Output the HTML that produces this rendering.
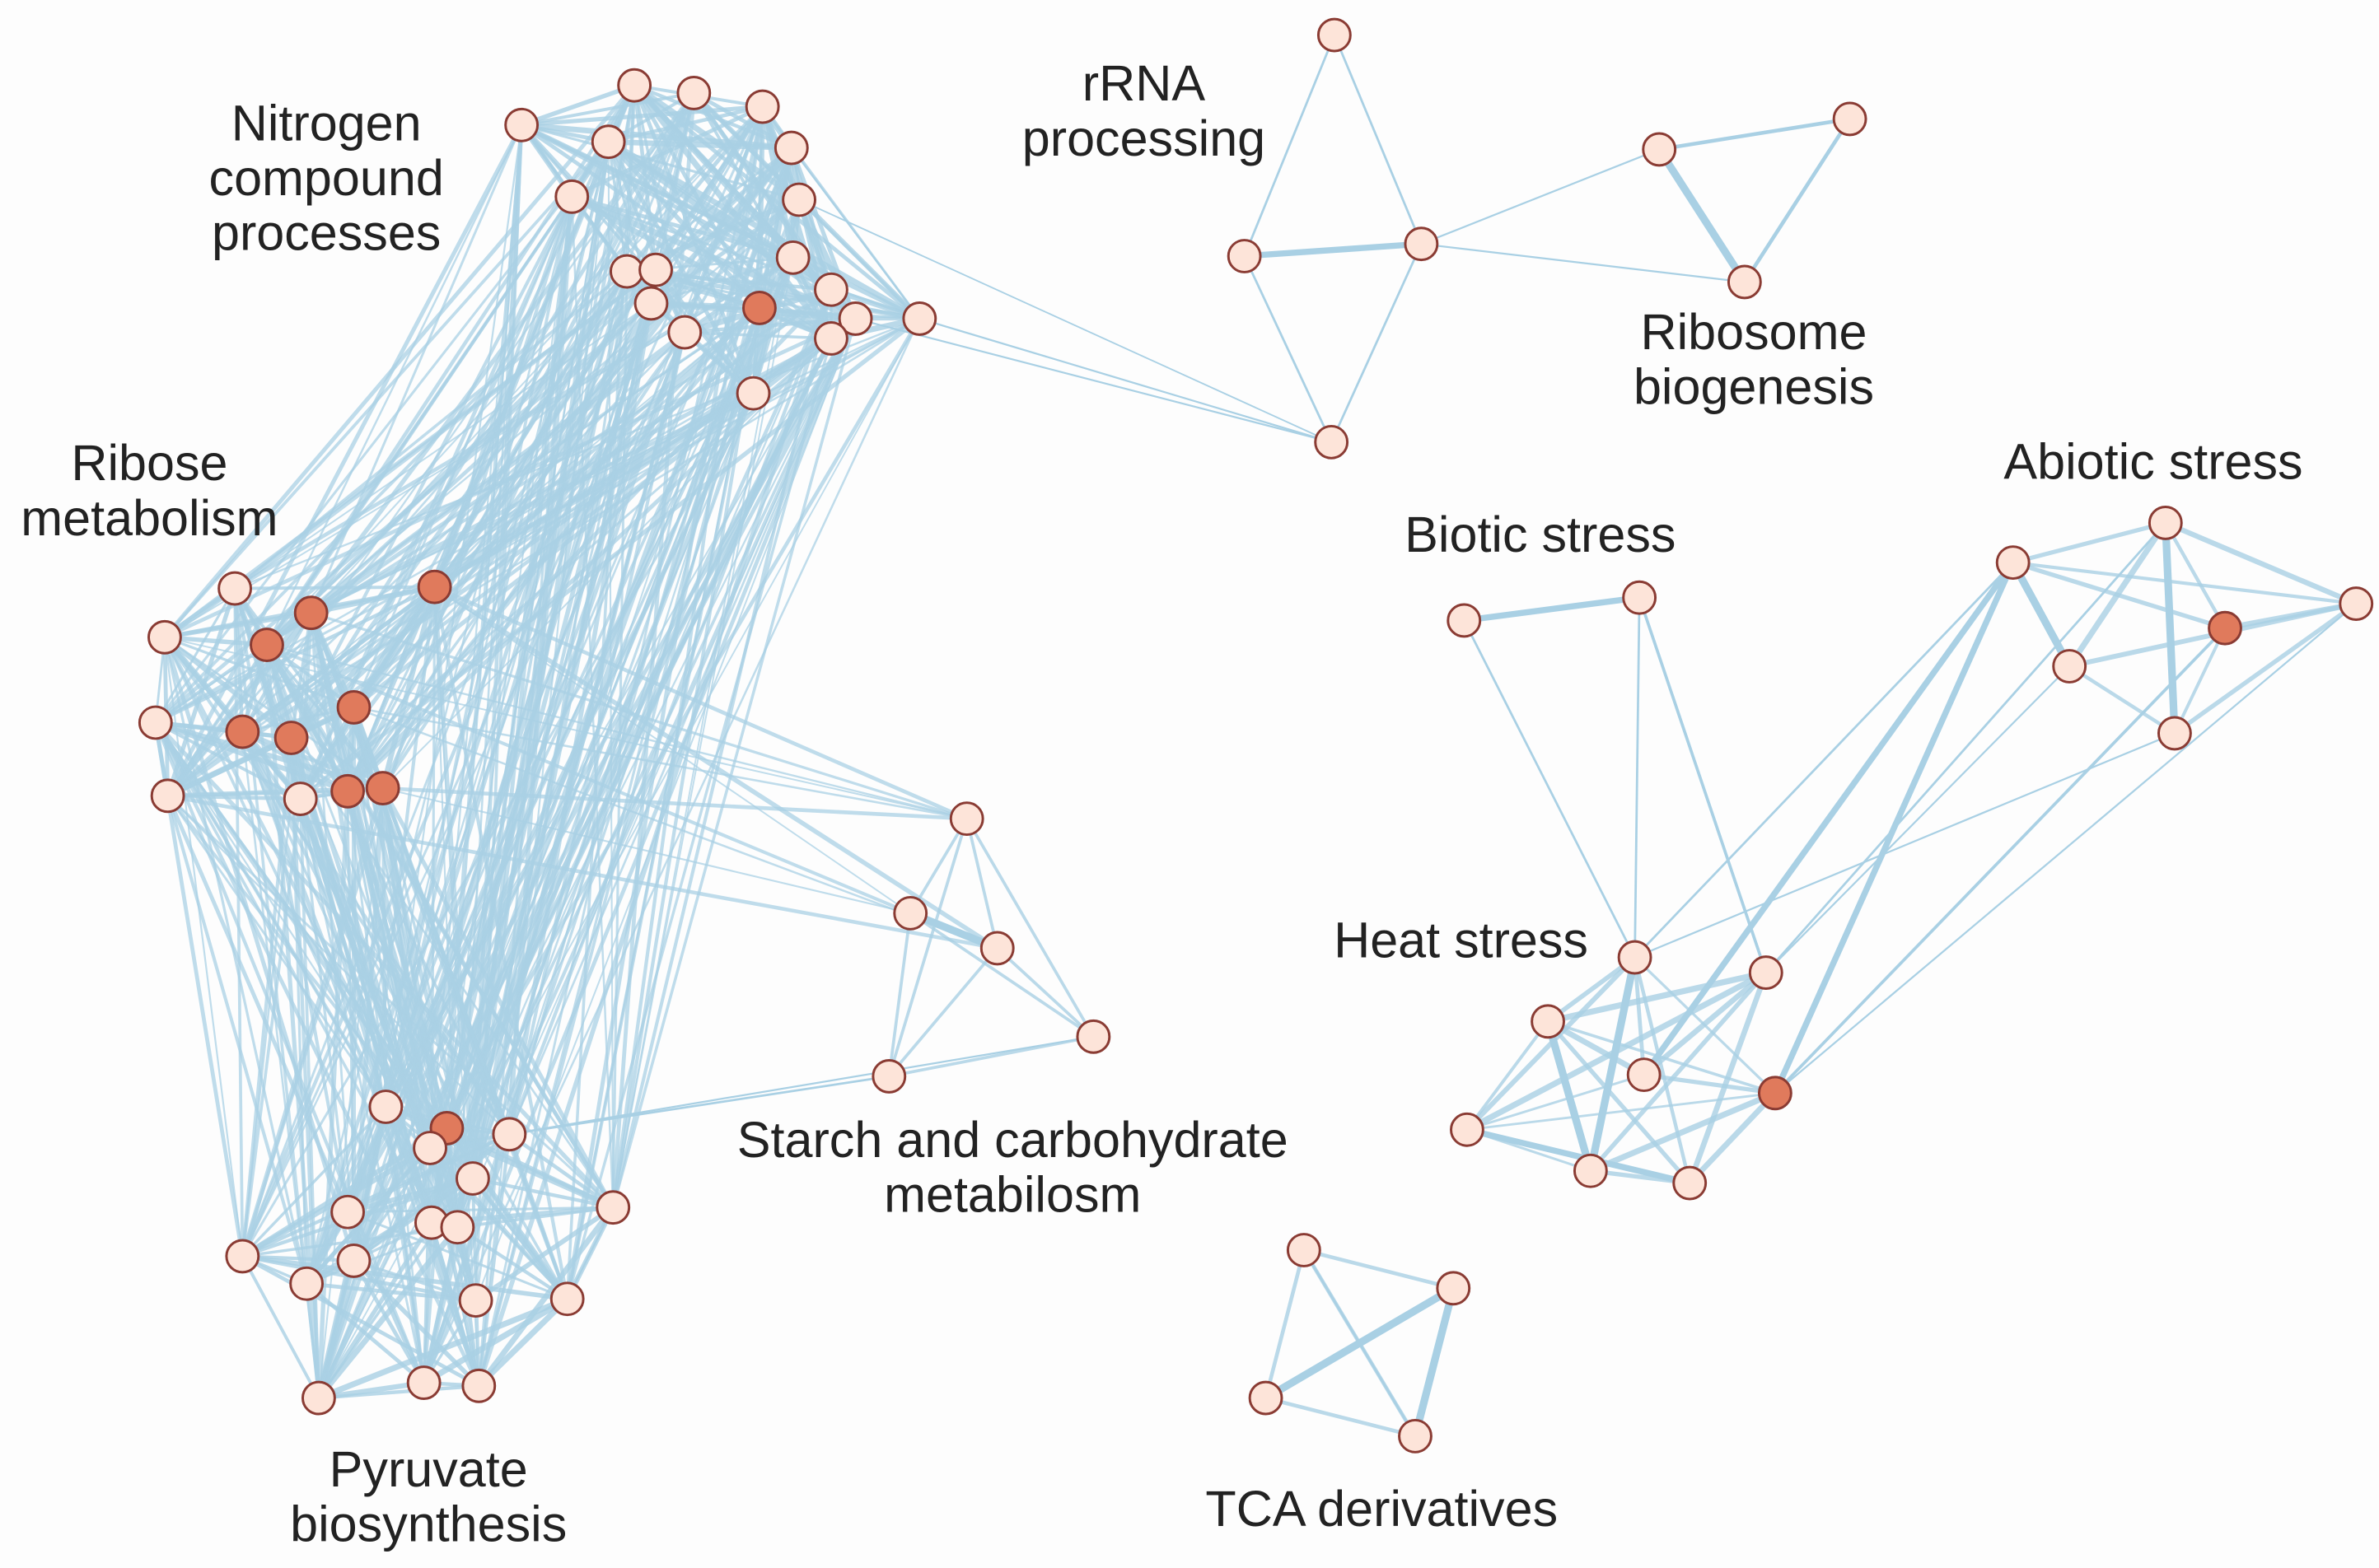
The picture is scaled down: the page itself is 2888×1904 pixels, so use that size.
<!DOCTYPE html>
<html><head><meta charset="utf-8"><style>
html,body{margin:0;padding:0;background:#fdfdfd;}
svg{display:block;}
text{font-family:"Liberation Sans",sans-serif;font-size:33px;fill:#222;text-anchor:middle;}
</style></head><body>
<svg id="s" width="2888" height="1904" viewBox="0 0 1560 1028.5" preserveAspectRatio="none" xmlns="http://www.w3.org/2000/svg">
<rect width="1560" height="1029" fill="#fdfdfd"/>
<g id="e" stroke="#a9d0e4" fill="none" stroke-linecap="round"></g>
<g id="n" stroke="#8a3b33" stroke-width="1.6"></g>
<text x="214" y="92">Nitrogen</text>
<text x="214" y="128">compound</text>
<text x="214" y="164">processes</text>
<text x="98" y="315">Ribose</text>
<text x="98" y="351">metabolism</text>
<text x="750" y="66">rRNA</text>
<text x="750" y="102">processing</text>
<text x="1150" y="229">Ribosome</text>
<text x="1150" y="265">biogenesis</text>
<text x="1412" y="314">Abiotic stress</text>
<text x="1010" y="362">Biotic stress</text>
<text x="958" y="628">Heat stress</text>
<text x="664" y="759">Starch and carbohydrate</text>
<text x="664" y="795">metabilosm</text>
<text x="281" y="975">Pyruvate</text>
<text x="281" y="1011">biosynthesis</text>
<text x="906" y="1001">TCA derivatives</text>
</svg>
<script>
var N=[[342,82],[416,56],[455,61],[500,70],[519,97],[399,93],[375,129],[524,131],[520,169],[411,178],[430,177],[427,199],[449,218],[498,202,1],[545,190],[561,209],[545,222],[603,209],[494,258]];
var R=[[154,386],[108,418],[175,423,1],[204,402,1],[285,385,1],[102,474],[159,480,1],[191,484,1],[232,464,1],[110,522],[197,524],[228,519,1],[251,517,1]];
var S=[[634,537],[597,599],[654,622],[717,680],[583,706]];
var P=[[253,726],[293,740,1],[334,744],[282,753],[310,773],[402,792],[228,795],[283,802],[300,805],[159,824],[232,827],[201,842],[312,853],[372,852],[209,917],[278,907],[314,909]];
var RR=[[875,23],[816,168],[932,160],[873,290]];
var RB=[[1088,98],[1213,78],[1144,185]];
var B=[[960,407],[1075,392]];
var A=[[1320,369],[1420,343],[1545,396],[1459,412,1],[1357,437],[1426,481]];
var H=[[1072,628],[1158,638],[1015,670],[1078,705],[1164,717,1],[962,741],[1043,768],[1108,776]];
var T=[[855,820],[953,845],[830,917],[928,942]];
var eg=document.getElementById('e'),ng=document.getElementById('n'),ns='http://www.w3.org/2000/svg';
var seed=7;function rnd(){seed=(seed*9301+49297)%233280;return seed/233280;}
function L(a,b,w,o){var l=document.createElementNS(ns,'line');l.setAttribute('x1',a[0]);l.setAttribute('y1',a[1]);l.setAttribute('x2',b[0]);l.setAttribute('y2',b[1]);l.setAttribute('stroke-width',w);if(o)l.setAttribute('stroke-opacity',o);eg.appendChild(l);}
function all(c,p,w){for(var i=0;i<c.length;i++)for(var j=i+1;j<c.length;j++)if(rnd()<p)L(c[i],c[j],w||1.5+rnd()*2.5,0.8);}
function cross(a,b,p){for(var i=0;i<a.length;i++)for(var j=0;j<b.length;j++)if(rnd()<p)L(a[i],b[j],1+rnd()*2,0.75);}
all(N,0.7);all(R,0.8);all(P,0.7);
cross(N,R,0.35);cross(N,P,0.35);cross(R,P,0.45);
cross(R,S.slice(0,3),0.3);
L(P[2],S[4],1.5);L(P[2],S[3],1.2);L(P[5],P[13],1.2);
all(S,1,2);L(S[1],S[2],5);
L(RR[0],RR[1],1.5);L(RR[0],RR[2],1.5);L(RR[1],RR[3],1.5);L(RR[2],RR[3],1.5);L(RR[1],RR[2],4);
L(RR[2],RB[0],1.2);L(RR[2],RB[2],1.2);
L(N[17],RR[3],1.2);L(N[15],RR[3],1.2);L(N[4],N[17],1.2);L(N[7],RR[3],1);
L(RB[0],RB[1],2.5);L(RB[1],RB[2],2.5);L(RB[0],RB[2],5);
L(B[0],B[1],4);L(B[0],H[0],1.5);L(B[1],H[0],1.5);L(B[1],H[1],2);
all(A,0.8);L(A[0],A[4],5);L(A[1],A[5],5);
all(H,0.9);L(H[0],H[6],5);L(H[2],H[6],5);L(H[5],H[7],4);
L(H[0],A[0],1.5);L(H[0],A[5],1.2);L(H[1],A[1],1.5);L(H[4],A[0],4);L(H[4],A[3],2);L(H[4],A[2],1.2);L(H[1],A[4],1.2);L(H[3],A[0],4);
all(T,1,2.5);L(T[0],T[3],1.5);L(T[2],T[1],5);L(T[1],T[3],5);
[N,R,S,P,RR,RB,B,A,H,T].forEach(function(c){c.forEach(function(p){var k=document.createElementNS(ns,'circle');k.setAttribute('cx',p[0]);k.setAttribute('cy',p[1]);k.setAttribute('r',10.5);k.setAttribute('fill',p[2]?'#e07a5c':'#fde4d9');ng.appendChild(k);});});
</script>
</body></html>
